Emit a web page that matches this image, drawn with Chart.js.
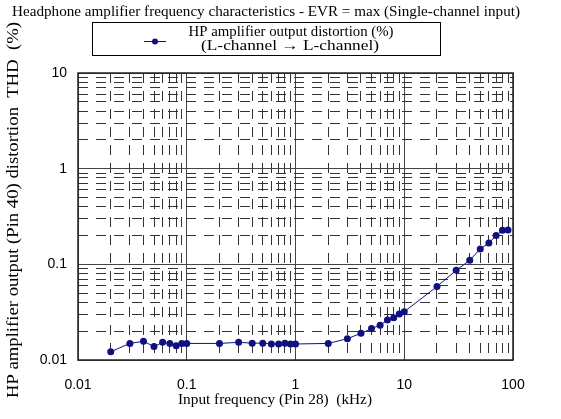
<!DOCTYPE html>
<html>
<head>
<meta charset="utf-8">
<script src="https://cdn.jsdelivr.net/npm/chart.js@4/dist/chart.umd.min.js"></script>
<style>
  html, body { margin: 0; padding: 0; background: #fff; }
  #wrap { width: 561px; height: 419px; }
</style>
</head>
<body>
<div id="wrap"><canvas id="chartOne"></canvas></div>
<script>
// values
const freqKHz = [0.02, 0.03, 0.04, 0.05, 0.06, 0.07, 0.08, 0.09, 0.1,
  0.2, 0.3, 0.4, 0.5, 0.6, 0.7, 0.8, 0.9, 1,
  2, 3, 4, 5, 6, 7, 8, 9, 10,
  20, 30, 40, 50, 60, 70, 80, 90];
const thdPercent = [0.0122, 0.0149, 0.0157, 0.0138, 0.0153, 0.0149, 0.0141, 0.0149, 0.0149,
  0.0149, 0.0153, 0.015, 0.015, 0.0147, 0.0147, 0.015, 0.0147, 0.0147,
  0.0149, 0.0167, 0.019, 0.0213, 0.0231, 0.0262, 0.0277, 0.0303, 0.032,
  0.0585, 0.0866, 0.11, 0.145, 0.167, 0.20, 0.227, 0.229];
const xTickLabels = ['0.01', '0.1', '1', '10', '100'];
const yTickLabels = ['0.01', '0.1', '1', '10'];

const chartTitle = 'Headphone amplifier frequency characteristics - EVR = max (Single-channel input)';
const legendLines = ['HP amplifier output distortion (%)', '(L-channel \u2192 L-channel)'];
const xTitle = 'Input frequency (Pin 28)  (kHz)';
const yTitle = 'HP amplifier output (Pin 40) distortion  THD  (%)';

const lineColor = '#101080';
const serif = '"Liberation Serif", "DejaVu Serif", serif';
const sans = '"Liberation Sans", Arial, sans-serif';

function isDecade(v) {
  const l = Math.log10(v);
  return Math.abs(l - Math.round(l)) < 1e-9;
}

// 1..9 x 10^n for every decade between the tick labels
function logTicks(labels) {
  const lo = Math.round(Math.log10(Number(labels[0])));
  const hi = Math.round(Math.log10(Number(labels[labels.length - 1])));
  const out = [];
  for (let e = lo; e <= hi; e++) {
    for (let m = 1; m <= 9; m++) {
      if (e === hi && m > 1) break;
      out.push({ value: Number((m * Math.pow(10, e)).toPrecision(6)) });
    }
  }
  return out;
}

function gridOpts() {
  return {
    drawTicks: false,
    color: (ctx) => (ctx.tick && isDecade(ctx.tick.value) ? '#444' : '#333'),
    lineWidth: 1,
  };
}

const borderOpts = {
  display: false,
  dash: (ctx) => (ctx.tick && isDecade(ctx.tick.value) ? [] : [10, 8]),
};

// text centred at x,y; width (optional) stretches it along the baseline
function drawText(c, text, x, y, size, width, angle) {
  c.save();
  c.font = size + 'px ' + serif;
  c.textAlign = 'center';
  c.textBaseline = 'middle';
  c.translate(x, y);
  if (angle) c.rotate(angle);
  if (width) c.scale(width / c.measureText(text).width, 1);
  c.fillText(text, 0, 0);
  c.restore();
}

// title, boxed legend, axis titles and plot frame
const decorPlugin = {
  id: 'decor',
  afterDraw(chart) {
    const c = chart.ctx;
    const a = chart.chartArea;
    c.save();
    c.setLineDash([]);
    c.strokeStyle = '#222';
    c.lineWidth = 1.5;
    c.strokeRect(a.left, a.top, a.right - a.left, a.bottom - a.top);

    c.fillStyle = '#000';
    drawText(c, chartTitle, 266, 12, 15, 508);

    c.lineWidth = 1;
    c.strokeStyle = '#000';
    c.strokeRect(92.5, 22.5, 348, 33);
    c.strokeStyle = lineColor;
    c.beginPath();
    c.moveTo(144, 41.5);
    c.lineTo(166, 41.5);
    c.stroke();
    c.fillStyle = lineColor;
    c.beginPath();
    c.arc(155, 41.5, 3, 0, Math.PI * 2);
    c.fill();
    c.fillStyle = '#000';
    drawText(c, legendLines[0], 291, 32, 15, 205);
    drawText(c, legendLines[1], 290, 46, 15, 178);

    drawText(c, xTitle, 275, 400, 15, 194);
    drawText(c, yTitle, 14, 210, 17, 376, -Math.PI / 2);
    c.restore();
  },
};

const canvasOne = document.getElementById('chartOne');
const configOne = {
  type: 'line',
  data: {
    datasets: [
      {
        label: legendLines.join(' '),
        data: freqKHz.map((f, i) => ({ x: f, y: thdPercent[i] })),
        borderColor: lineColor,
        backgroundColor: lineColor,
        borderWidth: 1,
        pointRadius: 3.5,
        pointBorderWidth: 0,
        tension: 0,
        fill: false,
      },
    ],
  },
  options: {
    responsive: true,
    maintainAspectRatio: false,
    animation: false,
    devicePixelRatio: 1,
    layout: { padding: { top: 73, right: 48, bottom: 0, left: 0 } },
    plugins: {
      legend: { display: false },
      title: { display: false },
      tooltip: { enabled: false },
    },
    scales: {
      x: {
        type: 'logarithmic',
        min: Number(xTickLabels[0]),
        max: Number(xTickLabels[xTickLabels.length - 1]),
        afterBuildTicks: (s) => { s.ticks = logTicks(xTickLabels); },
        afterFit: (s) => { s.height = 59; s.paddingLeft = 0; s.paddingRight = 0; },
        grid: gridOpts(),
        border: borderOpts,
        ticks: {
          autoSkip: false,
          maxRotation: 0,
          padding: 17,
          color: '#000',
          font: { family: sans, size: 14 },
          callback: (v) => (isDecade(v) ? String(v) : ''),
        },
      },
      y: {
        type: 'logarithmic',
        min: Number(yTickLabels[0]),
        max: Number(yTickLabels[yTickLabels.length - 1]),
        afterBuildTicks: (s) => { s.ticks = logTicks(yTickLabels); },
        afterFit: (s) => { s.width = 78; s.paddingTop = 0; s.paddingBottom = 0; },
        grid: gridOpts(),
        border: borderOpts,
        ticks: {
          autoSkip: false,
          padding: 11,
          color: '#000',
          font: { family: sans, size: 14 },
          callback: (v) => (isDecade(v) ? String(v) : ''),
        },
      },
    },
  },
  plugins: [decorPlugin],
};

const chartOne = new Chart(canvasOne, configOne);
</script>
</body>
</html>
